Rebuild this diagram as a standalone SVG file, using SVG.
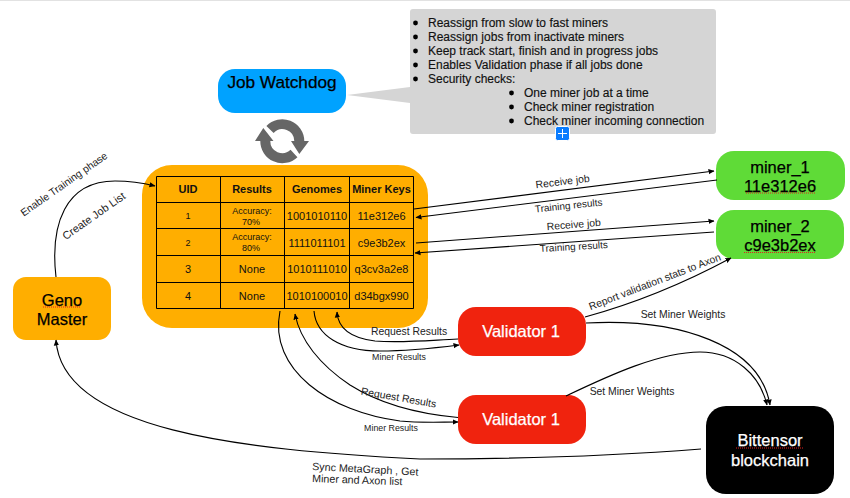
<svg xmlns="http://www.w3.org/2000/svg" width="850" height="498" viewBox="0 0 850 498">
<style>
text{font-family:"Liberation Sans",Arial,sans-serif;fill:#111}
.c{text-anchor:middle}
.n{font-size:16.5px;fill:#000;stroke:#000;stroke-width:.25}
text.w{fill:#fff;stroke:#fff}
.h{font-size:11px;font-weight:bold}
.t{font-size:11px}
.s{font-size:9px}
.l{font-size:10.4px;fill:#222}
.m{font-size:8.8px;fill:#222}
.b{font-size:12px;stroke:#111;stroke-width:.15}
.g{fill:none;stroke:#000;stroke-width:1.1}
.sp{stroke:#e02020;stroke-width:1;stroke-dasharray:1 1;fill:none}
</style>
<defs>
<marker id="a" viewBox="0 0 6 6" refX="5.5" refY="3" markerWidth="6" markerHeight="6" markerUnits="userSpaceOnUse" orient="auto"><path d="M0,0.4L6,3L0,5.600Z" fill="#000"/></marker>
</defs>
<rect x="0" y="0" width="850" height="1" fill="#e2e2e2"/>
<g id="callout">
<path d="M414,9H713a3,3 0 0 1 3,3V131a3,3 0 0 1-3,3H413a3,3 0 0 1-3-3V103L347,95L410,87V12a3,3 0 0 1 3-3Z" fill="#d5d5d5"/>
<g fill="#000"><circle cx="415.500" cy="23" r="2.400"/><circle cx="415.500" cy="37" r="2.400"/><circle cx="415.500" cy="51" r="2.400"/><circle cx="415.500" cy="65" r="2.400"/><circle cx="415.500" cy="79" r="2.400"/><circle cx="511.500" cy="93" r="2.400"/><circle cx="511.500" cy="107" r="2.400"/><circle cx="511.500" cy="121" r="2.400"/></g>
<text class="b" x="428" y="27">Reassign from slow to fast miners</text>
<text class="b" x="428" y="41">Reassign jobs from inactivate miners</text>
<text class="b" x="428" y="55">Keep track start, finish and in progress jobs</text>
<text class="b" x="428" y="69">Enables Validation phase if all jobs done</text>
<text class="b" x="428" y="83">Security checks:</text>
<text class="b" x="524" y="97">One miner job at a time</text>
<text class="b" x="524" y="111">Check miner registration</text>
<text class="b" x="524" y="125">Check miner incoming connection</text>
<rect x="555.500" y="126.500" width="14" height="14" rx="2" fill="#0a7cff" stroke="#fff"/>
<path d="M558,133.500H567M562.500,129V138" stroke="#fff" stroke-width="1"/>
</g>
<g id="job-watchdog">
<rect x="218" y="69" width="128" height="44" rx="17" fill="#00a2ff"/>
<text class="n c" x="282" y="88" style="font-size:17.200px">Job Watchdog</text>
</g>
<g id="cycle-icon">
<path d="M270,129.500A17,17 0 0 1 299.300,141M265.300,141A17,17 0 0 0 294,153.500" fill="none" stroke="#666" stroke-width="10"/>
<path d="M255,141L263.300,128L273.500,141ZM291,141L309,141L299.300,154Z" fill="#666"/>
</g>
<g id="table-node">
<rect x="142" y="165" width="286" height="163" rx="30" fill="#ffae00"/>
<path d="M156.500,176.500H413.500V308.500H156.500ZM156.500,202.500H413.500M156.500,228.500H413.500M156.500,255.500H413.500M156.500,282.500H413.500M220.500,176.500V308.500M284.500,176.500V308.500M349.500,176.500V308.500" fill="none" stroke="#000" stroke-width="1"/>
<text class="h c" x="188" y="193">UID</text>
<text class="h c" x="252" y="193">Results</text>
<text class="h c" x="317" y="193">Genomes</text>
<text class="h c" x="381.500" y="193">Miner Keys</text>
<text class="s c" x="188" y="219">1</text>
<text class="s c" x="252" y="214">Accuracy:</text>
<text class="s c" x="251" y="225">70%</text>
<text class="t c" x="317" y="220">1001010110</text>
<text class="t c" x="381.500" y="220">11e312e6</text>
<text class="s c" x="188" y="246">2</text>
<text class="s c" x="252" y="240">Accuracy:</text>
<text class="s c" x="251" y="251">80%</text>
<text class="t c" x="317" y="247">1111011101</text>
<text class="t c" x="381.500" y="247">c9e3b2ex</text>
<text class="t c" x="188" y="273">3</text>
<text class="t c" x="252" y="273">None</text>
<text class="t c" x="317" y="273">1010111010</text>
<text class="t c" x="381.500" y="273">q3cv3a2e8</text>
<text class="t c" x="188" y="300">4</text>
<text class="t c" x="252" y="300">None</text>
<text class="t c" x="317" y="300">1010100010</text>
<text class="t c" x="381.500" y="300">d34bgx990</text>
</g>
<g id="geno-master">
<rect x="13" y="277" width="98" height="63" rx="13" fill="#ffae00"/>
<text class="n c" x="62" y="305.500">Geno</text>
<text class="n c" x="62" y="325">Master</text>
<path class="sp" d="M43,307H81"/>
</g>
<g id="miner-1">
<rect x="716" y="151" width="129" height="49" rx="18" fill="#5fdb37"/>
<text class="n c" x="780" y="172.500">miner_1</text>
<text class="n c" x="780" y="192">11e312e6</text>
<path class="sp" d="M746,193H816"/>
</g>
<g id="miner-2">
<rect x="716" y="210" width="128" height="49" rx="18" fill="#5fdb37"/>
<text class="n c" x="780" y="231.500">miner_2</text>
<text class="n c" x="780" y="251">c9e3b2ex</text>
<path class="sp" d="M744,252.500H816"/>
</g>
<g id="validator-1a">
<rect x="458" y="307" width="128" height="49" rx="18" fill="#f0230e"/>
<text class="n c w" x="521" y="337">Validator 1</text>
</g>
<g id="validator-1b">
<rect x="458" y="395" width="128" height="49" rx="18" fill="#f0230e"/>
<text class="n c w" x="521" y="425">Validator 1</text>
</g>
<g id="bittensor">
<rect x="706" y="406" width="128" height="88" rx="20" fill="#000"/>
<text class="n c w" x="770" y="446">Bittensor</text>
<text class="n c w" x="770" y="466">blockchain</text>
<path class="sp" d="M736,448H803"/>
</g>
<g id="connectors">
<path class="g" marker-end="url(#a)" d="M56,277C50,225 65,181 115,181C130,181 143,183 155,186"/>
<path class="g" marker-end="url(#a)" d="M414,209L714,171"/>
<path class="g" marker-end="url(#a)" d="M717,180L416,217.500"/>
<path class="g" marker-end="url(#a)" d="M416,243L714,221"/>
<path class="g" marker-end="url(#a)" d="M714,232L415,253"/>
<path class="g" marker-end="url(#a)" d="M585,317C640,302 690,280 731,258"/>
<path class="g" marker-end="url(#a)" d="M586,323C680,318 760,345 770,405"/>
<path class="g" marker-end="url(#a)" d="M566,396C610,375 660,352 700,352C735,352 760,375 767,405"/>
<path class="g" marker-end="url(#a)" d="M701,449C600,457 500,459 420,459C240,450 62,430 56,340"/>
<path class="g" marker-end="url(#a)" d="M458,339C420,341 400,343 375,341C350,338 338,328 337,312"/>
<path class="g" marker-end="url(#a)" d="M314,311C316,335 340,351 380,351C410,351 435,348 459,345"/>
<path class="g" marker-end="url(#a)" d="M458,417.500C420,414 380,404 350,385C320,365 300,340 295,314"/>
<path class="g" marker-end="url(#a)" d="M280,311C268,370 330,412 400,421C420,423 440,422 458,422"/>
</g>
<g id="labels">
<text class="l c" transform="translate(66,187) rotate(-35)">Enable Training phase</text>
<text class="l c" style="font-size:11px" transform="translate(96,219) rotate(-35)">Create Job List</text>
<text class="l c" transform="translate(563,185) rotate(-7)">Receive job</text>
<text class="l c" style="font-size:10px" transform="translate(569,209) rotate(-6)">Training results</text>
<text class="l c" transform="translate(574,228) rotate(-4.500)">Receive job</text>
<text class="l c" style="font-size:10px" transform="translate(574,250) rotate(-3.500)">Training results</text>
<text class="l c" transform="translate(656,285) rotate(-21)">Report validation stats to Axon</text>
<text class="l c" x="683" y="318">Set Miner Weights</text>
<text class="l c" x="632" y="395">Set Miner Weights</text>
<text class="l c" x="409" y="335">Request Results</text>
<text class="m c" x="399" y="360">Miner Results</text>
<text class="l c" transform="translate(398,401) rotate(10)">Request Results</text>
<text class="m c" x="391" y="431">Miner Results</text>
<text class="l" style="font-size:10.700px" transform="translate(312,470) rotate(3)">Sync MetaGraph , Get</text>
<text class="l" style="font-size:10.700px" transform="translate(312,482) rotate(2)">Miner and Axon list</text>
</g>
</svg>
